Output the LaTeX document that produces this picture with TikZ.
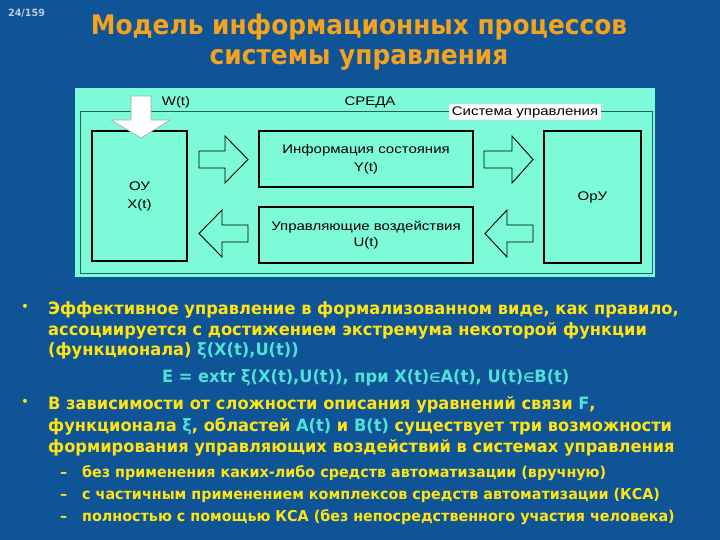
\documentclass[tikz,border=0pt]{standalone}
\usepackage{fontspec}
\setmainfont{DejaVu Sans}
\newfontfamily\diagfont[FakeStretch=1.2]{Liberation Sans}
\newfontfamily\slidefont[FakeStretch=0.955]{DejaVu Sans}
\newfontfamily\titlefont[FakeStretch=0.92]{DejaVu Sans}
\definecolor{bgc}{RGB}{14,84,150}
\definecolor{panelc}{RGB}{125,250,215}
\definecolor{framec}{RGB}{40,95,95}
\definecolor{yel}{RGB}{255,228,20}
\definecolor{orng}{RGB}{245,162,30}
\definecolor{cyn}{RGB}{80,225,215}
\definecolor{pgc}{RGB}{185,205,230}
\newcommand{\smel}{{\fontsize{13}{13}\selectfont ∈}}
\begin{document}
\begin{tikzpicture}[x=1pt,y=-1pt,
  blk/.style={draw=black,line width=1.2pt,fill=panelc,inner sep=0pt,align=center,
    font=\diagfont\fontsize{12.5}{18}\selectfont},
  barrow/.style={draw=black,line width=0.9pt,fill=panelc,line join=miter},
  dtext/.style={font=\diagfont\fontsize{12.5}{15}\selectfont,text=black,inner sep=0pt,align=center},
  ttext/.style={font=\titlefont\bfseries\fontsize{27}{32}\selectfont,text=orng,anchor=base,inner sep=0pt},
  btext/.style={font=\slidefont\bfseries\fontsize{17}{21}\selectfont,text=yel,anchor=base west,inner sep=0pt},
  stext/.style={font=\slidefont\bfseries\fontsize{15}{19}\selectfont,text=yel,anchor=base west,inner sep=0pt},
  dot/.style={font=\slidefont\fontsize{14}{14}\selectfont,text=yel,inner sep=0pt},
]
\useasboundingbox (0,0) rectangle (720,540);
\fill[bgc] (0,0) rectangle (720,540);

% page number and title
\node[font=\slidefont\bfseries\fontsize{10}{12}\selectfont,text=pgc,anchor=base west,inner sep=0pt] (pg) at (8,17) {24/159};
\node[ttext] (t1) at (359,35) {Модель информационных процессов};
\node[ttext] (t2) at (359,65) {системы управления};

% diagram panel
\fill[panelc] (75,88) rectangle (655,277);
\draw[framec,line width=1pt] (80,112) rectangle (652,273);
\node[dtext,fill=white,inner xsep=3pt,inner ysep=2pt] (su) at (525,112) {Система управления};
\node[dtext] (sreda) at (370,102) {СРЕДА};

\node[blk,minimum width=95pt,minimum height=130pt] (ou) at (139.5,196) {ОУ\\X(t)};
\node[blk,minimum width=214pt,minimum height=56pt] (info) at (366,159) {Информация состояния\\Y(t)};
\node[blk,minimum width=214pt,minimum height=56pt,font=\diagfont\fontsize{12.5}{16}\selectfont] (ctrl) at (366,235) {Управляющие воздействия\\U(t)};
\node[blk,minimum width=97pt,minimum height=132pt] (oru) at (592.5,197) {ОрУ};

% block arrows
\draw[barrow] (199,151) -- (225,151) -- (225,136) -- (248,159.5) -- (225,183) -- (225,168) -- (199,168) -- cycle;
\draw[barrow] (484,151) -- (512,151) -- (512,136) -- (533,159.5) -- (512,183) -- (512,168) -- (484,168) -- cycle;
\draw[barrow] (248,225) -- (222,225) -- (222,210) -- (199,233.5) -- (222,257) -- (222,242) -- (248,242) -- cycle;
\draw[barrow] (533,225) -- (507,225) -- (507,210) -- (485,233.5) -- (507,257) -- (507,242) -- (533,242) -- cycle;

% disturbance arrow
\draw[fill=white,draw=gray!70,line width=0.6pt] (131,96) -- (151,96) -- (151,120) -- (170,120) -- (141,138) -- (111,120) -- (131,120) -- cycle;
\node[dtext] (w) at (176,102) {W(t)};

% bullets
\node[dot] (d1) at (25,308) {•};
\node[dot] (d2) at (25,403) {•};
\node[btext] (l1) at (48,314) {Эффективное управление в формализованном виде, как правило,};
\node[btext] (l2) at (48,335) {ассоциируется с достижением экстремума некоторой функции};
\node[btext] (l3) at (48,355) {(функционала) \textcolor{cyn}{ξ(X(t),U(t))}};
\node[btext,text=cyn] (l4) at (162,382) {E = extr ξ(X(t),U(t)), при X(t)\smel A(t), U(t)\smel B(t)};
\node[btext] (l5) at (48,409) {В зависимости от сложности описания уравнений связи \textcolor{cyn}{F},};
\node[btext] (l6) at (48,431) {функционала \textcolor{cyn}{ξ}, областей \textcolor{cyn}{A(t)} и \textcolor{cyn}{B(t)} существует три возможности};
\node[btext] (l7) at (48,452) {формирования управляющих воздействий в системах управления};

\node[stext] (m1) at (60,477) {–};
\node[stext] (m2) at (60,499) {–};
\node[stext] (m3) at (60,521) {–};
\node[stext] (s1) at (82,477) {без применения каких-либо средств автоматизации (вручную)};
\node[stext] (s2) at (82,499) {с частичным применением комплексов средств автоматизации (КСА)};
\node[stext] (s3) at (82,521) {полностью с помощью КСА (без непосредственного участия человека)};
\end{tikzpicture}
\end{document}
